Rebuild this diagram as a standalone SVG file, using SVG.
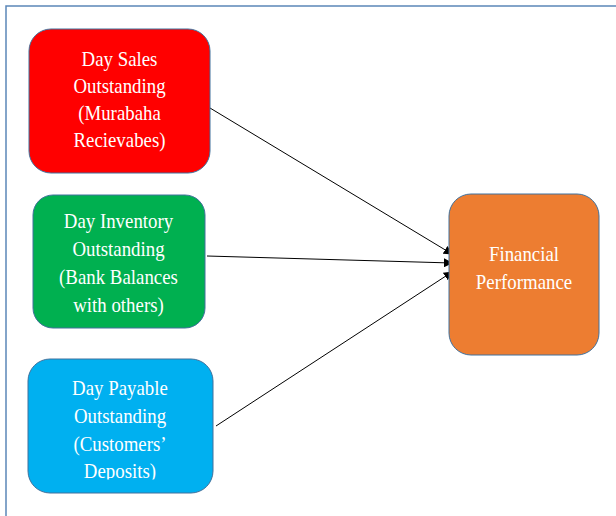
<svg xmlns="http://www.w3.org/2000/svg" width="616" height="516" viewBox="0 0 616 516">
  <style>
    .box { stroke: #41719c; stroke-width: 1; }
    .lbl { font-family: "Liberation Serif", "Times New Roman", serif; font-size: 20.5px; fill: #ffffff; text-anchor: middle; }
    .edge { stroke: #000000; stroke-width: 1; fill: none; marker-end: url(#arrow); }
  </style>
  <defs>
    <marker id="arrow" viewBox="0 0 10 10" refX="9" refY="5" markerWidth="9" markerHeight="9" markerUnits="userSpaceOnUse" orient="auto">
      <path d="M0,0 L10,5 L0,10 z" fill="#000000"/>
    </marker>
    <clipPath id="clipBottom">
      <rect x="-200" y="0" width="616" height="479.5"/>
    </clipPath>
  </defs>

  <rect width="616" height="516" fill="#ffffff"/>
  <!-- outer frame -->
  <path d="M6,530 L6,6 L630,6" fill="none" stroke="#5b86b8" stroke-width="1.5"/>

  <g id="connectors">
    <line class="edge" x1="210" y1="108" x2="452" y2="254"/>
    <line class="edge" x1="207" y1="256" x2="452" y2="263"/>
    <line class="edge" x1="216" y1="426" x2="452" y2="272"/>
  </g>

  <g id="dso">
    <rect class="box" x="29" y="29" width="181" height="144" rx="22" fill="#ff0000"/>
    <g transform="translate(119.5 0) scale(0.92 1)">
      <text class="lbl" x="0" y="66.5">Day Sales</text>
      <text class="lbl" x="0" y="93.5">Outstanding</text>
      <text class="lbl" x="0" y="120.5">(Murabaha</text>
      <text class="lbl" x="0" y="147.5">Recievabes)</text>
    </g>
  </g>

  <g id="dio">
    <rect class="box" x="33" y="195" width="172" height="133" rx="20" fill="#00b050"/>
    <g transform="translate(118.5 0) scale(0.92 1)">
      <text class="lbl" x="0" y="228">Day Inventory</text>
      <text class="lbl" x="0" y="256">Outstanding</text>
      <text class="lbl" x="0" y="284">(Bank Balances</text>
      <text class="lbl" x="0" y="312">with others)</text>
    </g>
  </g>

  <g id="dpo">
    <rect class="box" x="28" y="359" width="185" height="134" rx="22" fill="#00b0f0"/>
    <g transform="translate(120 0) scale(0.92 1)">
      <text class="lbl" x="0" y="395">Day Payable</text>
      <text class="lbl" x="0" y="423">Outstanding</text>
      <text class="lbl" x="0" y="451">(Customers’</text>
      <text class="lbl" x="0" y="478" clip-path="url(#clipBottom)">Deposits)</text>
    </g>
  </g>

  <g id="performance">
    <rect class="box" x="449" y="194" width="150" height="161" rx="22" fill="#ed7d31" stroke="#c0662a"/>
    <g transform="translate(524 0) scale(0.92 1)">
      <text class="lbl" x="0" y="261">Financial</text>
      <text class="lbl" x="0" y="289">Performance</text>
    </g>
  </g>
</svg>
